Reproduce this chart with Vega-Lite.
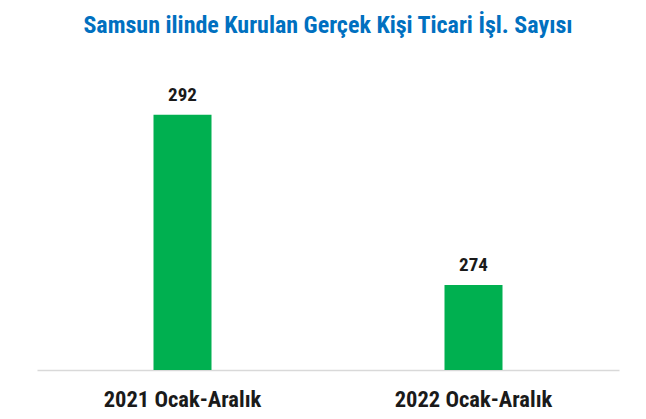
{
  "$schema": "https://vega.github.io/schema/vega-lite/v6.json",
  "width": 582,
  "height": 331,
  "autosize": {"type": "none"},
  "padding": {"left": 37, "top": 39, "right": 27, "bottom": 49},
  "background": "white",
  "title": {
    "text": "Samsun ilinde Kurulan Gerçek Kişi Ticari İşl.  Sayısı",
    "color": "#0070C0",
    "font": "Liberation Sans Narrow, Roboto Condensed, Roboto",
    "fontSize": 24,
    "fontWeight": "bold",
    "anchor": "middle",
    "offset": 1
  },
  "data": {
    "values": [
      {"period": "2021 Ocak-Aralık", "count": 292},
      {"period": "2022 Ocak-Aralık", "count": 274}
    ]
  },
  "encoding": {
    "x": {
      "field": "period",
      "type": "nominal",
      "sort": null,
      "scale": {"paddingInner": 0, "paddingOuter": 0},
      "axis": {
        "title": null,
        "labelAngle": 0,
        "labelFont": "Liberation Sans Narrow, Roboto Condensed, Roboto",
        "labelFontSize": 22.5,
        "labelFontWeight": "bold",
        "labelColor": "#1a1a1a",
        "labelPadding": 18,
        "ticks": false,
        "domainColor": "#d9d9d9",
        "domainWidth": 1.5,
        "grid": false
      }
    },
    "y": {
      "field": "count",
      "type": "quantitative",
      "scale": {"domain": [265, 300], "zero": false, "nice": false},
      "axis": null
    }
  },
  "layer": [
    {
      "mark": {"type": "bar", "color": "#00B050", "size": 58, "clip": true}
    },
    {
      "mark": {
        "type": "text",
        "baseline": "bottom",
        "dy": -10,
        "font": "Liberation Sans Narrow, Roboto Condensed, Roboto",
        "fontSize": 19,
        "fontWeight": "bold",
        "color": "#1a1a1a"
      },
      "encoding": {"text": {"field": "count", "type": "quantitative"}}
    }
  ],
  "config": {"view": {"stroke": null}}
}
